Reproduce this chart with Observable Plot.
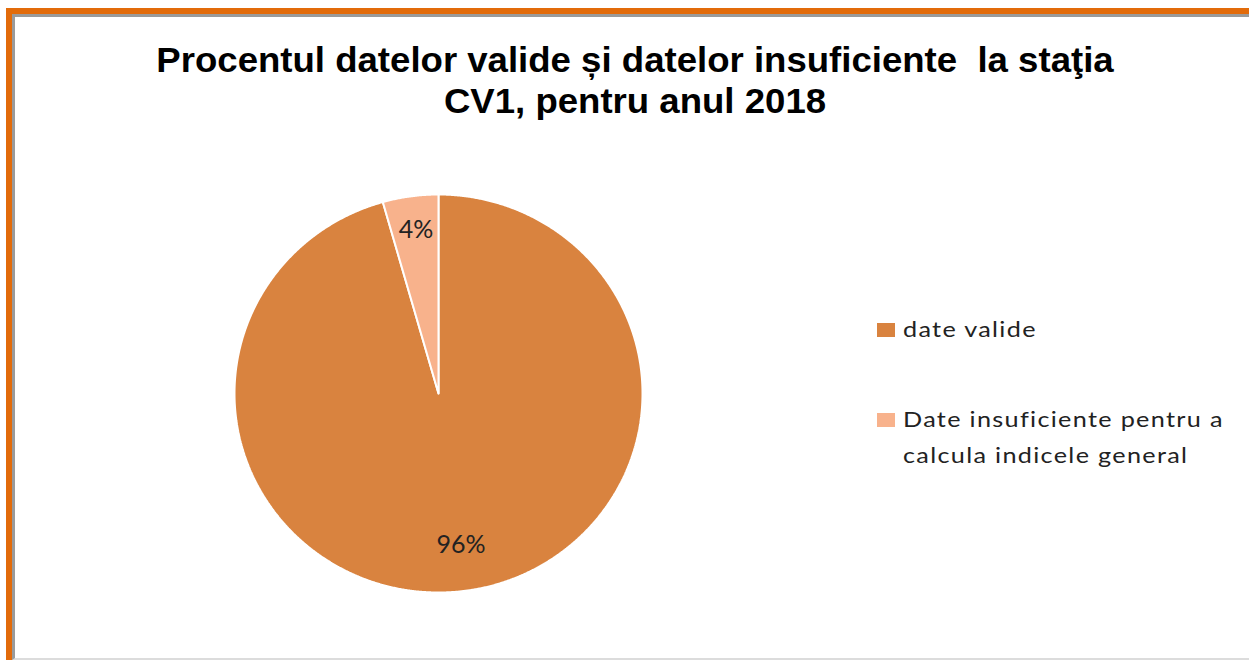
<!DOCTYPE html>
<html>
<head>
<meta charset="utf-8">
<script src="https://cdn.jsdelivr.net/npm/d3@7"></script>
<script src="https://cdn.jsdelivr.net/npm/@observablehq/plot@0.6"></script>
<style>
  html, body { margin: 0; padding: 0; background: #fff; }
  body { width: 1249px; height: 660px; position: relative; overflow: hidden; }
  #frame { position: absolute; left: 6px; top: 8px; width: 1243px; height: 652px; border-top: 6px solid #E26B0A; border-left: 6px solid #E26B0A; box-sizing: border-box; }
  #inner { position: absolute; left: 0; top: 0; right: 0; bottom: 0; border-top: 3px solid #9a9a9a; border-left: 3px solid #9a9a9a; border-bottom: 2px solid #dcdcdc; box-sizing: border-box; }
  .title { position: absolute; font-family: "Liberation Sans", Arial, sans-serif; font-weight: bold; font-size: 35px; color: #000; white-space: pre; transform: translateX(-50%) scaleX(1.045); line-height: 1; }
  #chart { position: absolute; left: 0; top: 0; }
  .leg { position: absolute; font-family: Lato, "Open Sans", sans-serif; font-size: 21px; letter-spacing: 1.1px; color: #222; line-height: 36px; white-space: nowrap; transform: scaleX(1.2); transform-origin: 0 0; }
  .sw { position: absolute; width: 18px; height: 14px; }
</style>
</head>
<body>
<div id="frame"><div id="inner"></div></div>
<div id="t1" class="title" style="left:635px; top:42px;"></div>
<div id="t2" class="title" style="left:635px; top:83px;"></div>
<div id="chart"></div>
<div id="legend"></div>
<script>
const titleLines = ["Procentul datelor valide și datelor insuficiente  la staţia", "CV1, pentru anul 2018"];
const categories = ["date valide", "Date insuficiente pentru a calcula indicele general"];
const legendLines = [["date valide"], ["Date insuficiente pentru a", "calcula indicele general"]];
const values = [95.6, 4.4];
const colors = ["#D9833F", "#F8B28C"];

document.getElementById("t1").textContent = titleLines[0];
document.getElementById("t2").textContent = titleLines[1];

const total = d3.sum(values);
const arcs = d3.pie().sort(null).value(d => d)(values);
const pts = arcs.flatMap((a, i) => {
  const n = Math.max(4, Math.ceil((a.endAngle - a.startAngle) / 0.005));
  const out = [{x: 0, y: 0, cat: categories[i]}];
  for (let j = 0; j <= n; j++) {
    const t = a.startAngle + (a.endAngle - a.startAngle) * j / n;
    out.push({x: Math.sin(t), y: Math.cos(t), cat: categories[i]});
  }
  out.push({x: 0, y: 0, cat: categories[i]});
  return out;
});
const labelData = arcs.map((a, i) => {
  const m = (a.startAngle + a.endAngle) / 2;
  const r = 0.8;
  return {x: r * Math.sin(m), y: r * Math.cos(m), label: Math.round(values[i] / total * 100) + "%"};
});

const chart = Plot.plot({
  width: 1249,
  height: 660,
  marginLeft: 234,
  marginRight: 1249 - 642,
  marginTop: 194,
  marginBottom: 660 - 592,
  style: {background: "transparent", overflow: "visible"},
  x: {domain: [-1, 1], axis: null},
  y: {domain: [-1, 1], axis: null},
  color: {domain: categories, range: colors},
  marks: [
    Plot.line(pts, {x: "x", y: "y", z: "cat", fill: "cat", stroke: "white", strokeWidth: 2, strokeLinejoin: "miter", curve: "linear"}),
    Plot.text(labelData, {x: "x", y: "y", text: "label", dy: -6, fontSize: 25, fontFamily: "Lato, sans-serif", fill: "#222"})
  ]
});
document.getElementById("chart").appendChild(chart);

const legend = document.getElementById("legend");
const legTops = [323, 413];
legendLines.forEach((lines, i) => {
  const sw = document.createElement("div");
  sw.className = "sw";
  sw.style.left = "877px";
  sw.style.top = legTops[i] + "px";
  sw.style.background = colors[i];
  legend.appendChild(sw);
  const tx = document.createElement("div");
  tx.className = "leg";
  tx.style.left = "903px";
  tx.style.top = (legTops[i] - 12) + "px";
  tx.innerHTML = lines.join("<br>");
  legend.appendChild(tx);
});
</script>
</body>
</html>
